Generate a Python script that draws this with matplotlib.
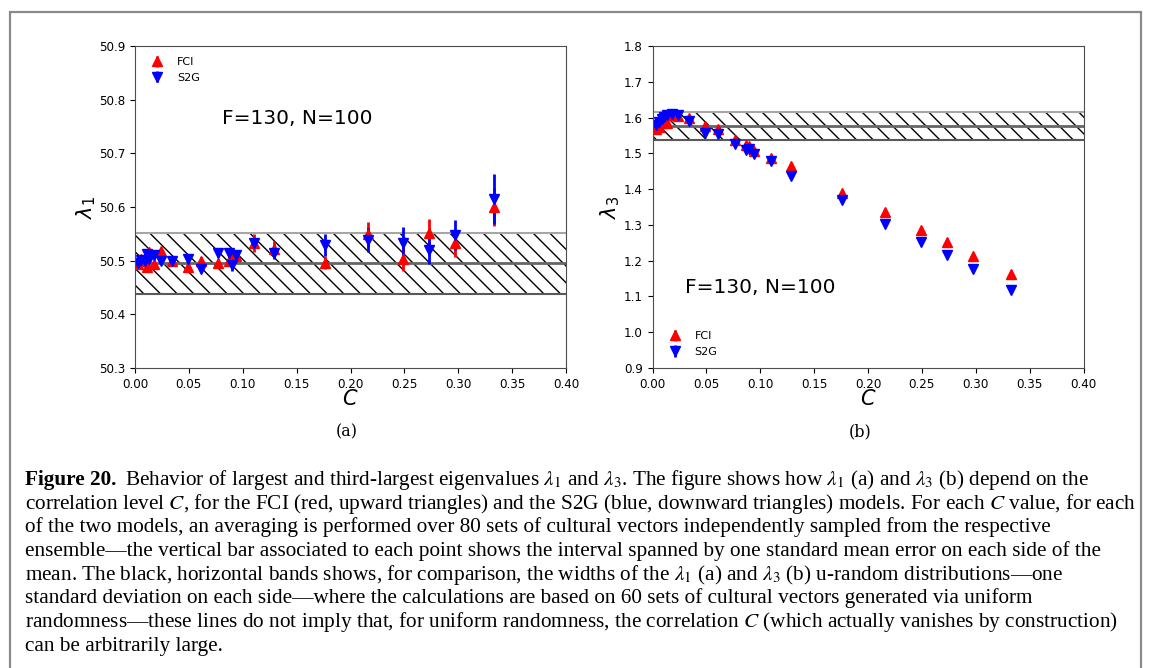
import matplotlib.pyplot as plt
from matplotlib.patches import Rectangle

# correlation levels (shared by both panels)
C = [0.003, 0.006, 0.009, 0.011, 0.013, 0.018, 0.024, 0.034, 0.049, 0.061, 0.077,
     0.087, 0.090, 0.094, 0.110, 0.129, 0.176, 0.216, 0.249, 0.273, 0.297, 0.333]

# panel (a): lambda_1
l1_fci = [50.494, 50.504, 50.500, 50.489, 50.516, 50.493, 50.518, 50.499, 50.489, 50.499, 50.496,
          50.500, 50.506, 50.508, 50.533, 50.522, 50.496, 50.549, 50.503, 50.551, 50.532, 50.600]
l1_fci_err = [0.005, 0.005, 0.005, 0.006, 0.006, 0.006, 0.006, 0.006, 0.007, 0.007, 0.008,
              0.008, 0.010, 0.012, 0.017, 0.014, 0.012, 0.023, 0.022, 0.026, 0.025, 0.035]
l1_s2g = [50.496, 50.501, 50.500, 50.512, 50.504, 50.510, 50.500, 50.500, 50.504, 50.485, 50.514,
          50.514, 50.491, 50.511, 50.532, 50.514, 50.529, 50.538, 50.532, 50.519, 50.547, 50.615]
l1_s2g_err = [0.005, 0.005, 0.005, 0.006, 0.006, 0.006, 0.006, 0.006, 0.007, 0.007, 0.008,
              0.008, 0.010, 0.008, 0.008, 0.011, 0.020, 0.022, 0.030, 0.025, 0.028, 0.047]
l1_band = (50.495, 0.057)

# panel (b): lambda_3
l3_fci = [1.568, 1.575, 1.585, 1.590, 1.585, 1.607, 1.603, 1.600, 1.576, 1.569, 1.537,
          1.523, 1.520, 1.506, 1.487, 1.464, 1.388, 1.336, 1.286, 1.251, 1.214, 1.163]
l3_s2g = [1.579, 1.588, 1.597, 1.602, 1.606, 1.610, 1.606, 1.590, 1.558, 1.553, 1.526,
          1.510, 1.512, 1.498, 1.478, 1.437, 1.369, 1.303, 1.253, 1.216, 1.178, 1.118]
l3_err = [0.002] * len(C)
l3_band = (1.576, 0.040)

caption = [
    r"Behavior of largest and third-largest eigenvalues $\lambda_1$ and $\lambda_3$. The figure shows how $\lambda_1$ (a) and $\lambda_3$ (b) depend on the",
    r"correlation level $C$, for the FCI (red, upward triangles) and the S2G (blue, downward triangles) models. For each $C$ value, for each",
    r"of the two models, an averaging is performed over 80 sets of cultural vectors independently sampled from the respective",
    r"ensemble—the vertical bar associated to each point shows the interval spanned by one standard mean error on each side of the",
    r"mean. The black, horizontal bands shows, for comparison, the widths of the $\lambda_1$ (a) and $\lambda_3$ (b) u-random distributions—one",
    r"standard deviation on each side—where the calculations are based on 60 sets of cultural vectors generated via uniform",
    r"randomness—these lines do not imply that, for uniform randomness, the correlation $C$ (which actually vanishes by construction)",
    r"can be arbitrarily large.",
]

W, H = 1152, 668
fig = plt.figure(figsize=(W / 100, H / 100), dpi=100)

# outer frame
fig.add_artist(Rectangle((10 / W, -0.05), 1131 / W, 1 - 12 / H + 0.05, transform=fig.transFigure,
                         fill=False, edgecolor='#8a8a8a', lw=1.6))

ax1 = fig.add_axes([135 / W, 1 - 368 / H, 431 / W, 322 / H])
ax2 = fig.add_axes([652.5 / W, 1 - 368 / H, 431 / W, 322 / H])


def band(ax, center, half):
    ax.fill_between([0, 0.4], center - half, center + half, facecolor='none', hatch='\\\\',
                    edgecolor='black', lw=0)
    ax.axhline(center + half, color='0.65', lw=1.5)
    ax.axhline(center - half, color='0.35', lw=1.5)
    ax.axhline(center, color='0.4', lw=2)


band(ax1, *l1_band)
ax1.errorbar(C, l1_fci, yerr=l1_fci_err, fmt='^', color='red', ms=7.5, elinewidth=2, label='FCI')
ax1.errorbar(C, l1_s2g, yerr=l1_s2g_err, fmt='v', color='blue', ms=7.5, elinewidth=2, label='S2G')
ax1.set_ylim(50.3, 50.9)
ax1.set_ylabel(r'$\lambda_1$', fontsize=15, labelpad=1)
ax1.text(0.0807, 50.764, 'F=130, N=100', fontsize=14.5, va='center')
ax1.legend(loc='upper left', frameon=False, fontsize=8, handletextpad=0.8, borderaxespad=0.6)

band(ax2, *l3_band)
ax2.errorbar(C, l3_fci, yerr=l3_err, fmt='^', color='red', ms=7.5, elinewidth=2, label='FCI')
ax2.errorbar(C, l3_s2g, yerr=l3_err, fmt='v', color='blue', ms=7.5, elinewidth=2, label='S2G')
ax2.set_ylim(0.9, 1.8)
ax2.set_ylabel(r'$\lambda_3$', fontsize=15, labelpad=1)
ax2.text(0.030, 1.124, 'F=130, N=100', fontsize=14.5, va='center')
ax2.legend(loc='lower left', frameon=False, fontsize=8, handletextpad=0.8, borderaxespad=0.6)

for ax in (ax1, ax2):
    ax.set_xlim(0, 0.4)
    ax.set_xticks([0, 0.05, 0.1, 0.15, 0.2, 0.25, 0.3, 0.35, 0.4])
    ax.set_xlabel(r'$C$', fontsize=15, labelpad=-1)
    ax.tick_params(labelsize=8.6, length=3.5)
    for s in ax.spines.values():
        s.set_color('0.3')

fig.text(347 / W, 1 - 432 / H, '(a)', fontsize=11.5, family='DejaVu Serif', ha='center', va='center')
fig.text(860 / W, 1 - 432 / H, '(b)', fontsize=11.5, family='DejaVu Serif', ha='center', va='center')

# caption
cax = fig.add_axes([0, 0, 1, 1])
cax.axis('off')
cfont = dict(family='Liberation Serif', fontsize=15.3, math_fontfamily='stix', va='baseline')
base = 485
head = cax.text(25 / W, 1 - base / H, 'Figure 20.', fontweight='bold', **cfont)
fig.canvas.draw()
hx = head.get_window_extent().x1 / W
cax.text(hx + 9 / W, 1 - base / H, caption[0], **cfont)
for i, line in enumerate(caption[1:], start=1):
    cax.text(25 / W, 1 - (base + i * 23.7) / H, line, **cfont)

fig.savefig('out.png', dpi=100)
